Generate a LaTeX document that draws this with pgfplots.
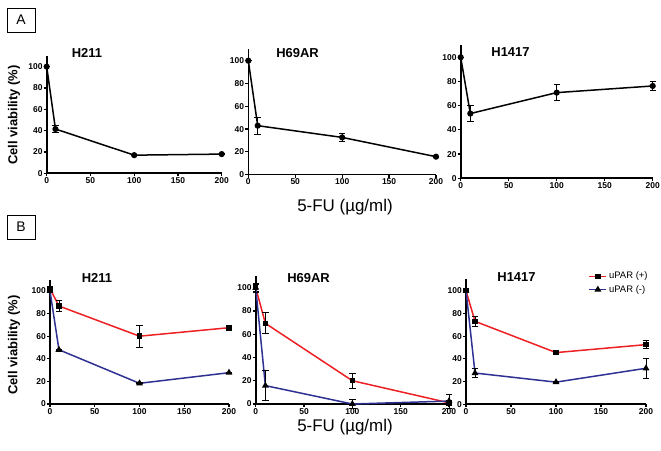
\documentclass[border=0pt]{standalone}
\usepackage{pgfplots}
\pgfplotsset{compat=1.18}
\usepackage{fontspec}
\setmainfont{Liberation Sans}
\definecolor{upred}{RGB}{237,32,36}
\definecolor{upblue}{RGB}{46,49,146}
\pgfplotsset{
 cvstyle/.style={
  scale only axis, anchor=south west,
  xmin=0,xmax=200,ymin=0,ymax=110,
  axis x line=bottom, axis y line=left,
  axis line style={-, line width=1.6bp, black},
  xtick={0,50,100,150,200}, ytick={0,20,40,60,80,100},
  tick align=outside, major tick length=3bp,
  tick style={line width=1.2bp, black},
  ticklabel style={font=\fontsize{8.5}{9}\selectfont\bfseries, inner sep=1bp},
  /pgf/number format/assume math mode=true,
  clip=false,
 },
 blk/.style={black, line width=1.5bp, mark=*, mark size=2.3bp,
   error bars/.cd, y dir=both, y explicit,
   error bar style={line width=0.9bp},
   error mark options={rotate=90, mark size=3.2bp, line width=0.9bp}},
 redser/.style={upred, line width=1.5bp, mark=square*, mark size=2bp, mark options={black},
   error bars/.cd, y dir=both, y explicit,
   error bar style={line width=0.9bp, black},
   error mark options={rotate=90, mark size=3.2bp, line width=0.9bp, black}},
 blueser/.style={upblue, line width=1.5bp, mark=triangle*, mark size=2.5bp, mark options={black},
   error bars/.cd, y dir=both, y explicit,
   error bar style={line width=0.9bp, black},
   error mark options={rotate=90, mark size=3.2bp, line width=0.9bp, black}},
}
\begin{document}
\begin{tikzpicture}[x=1bp,y=1bp]
\path[use as bounding box] (0,0) rectangle (661,451);
% panel labels
\node[draw, line width=0.8bp, minimum width=28bp, minimum height=24bp, inner sep=0pt, font=\fontsize{14}{15}\selectfont] at (21,431) {A};
\node[draw, line width=0.8bp, minimum width=28bp, minimum height=24bp, inner sep=0pt, font=\fontsize{14}{15}\selectfont] at (21,224) {B};
% y labels
\node[rotate=90, font=\fontsize{13}{14}\selectfont\bfseries] at (14,336) {Cell viability (\%)};
\node[rotate=90, font=\fontsize{13}{14}\selectfont\bfseries] at (14,106) {Cell viability (\%)};
% x labels
\node[font=\fontsize{17}{18}\selectfont] at (345,244) {5-FU (µg/ml)};
\node[font=\fontsize{17}{18}\selectfont] at (345,24) {5-FU (µg/ml)};
% titles
\node[font=\fontsize{13}{14}\selectfont\bfseries] at (87,398) {H211};
\node[font=\fontsize{13}{14}\selectfont\bfseries] at (297.5,398) {H69AR};
\node[font=\fontsize{13}{14}\selectfont\bfseries] at (510.5,398.5) {H1417};
\node[font=\fontsize{13}{14}\selectfont\bfseries] at (97,173) {H211};
\node[font=\fontsize{13}{14}\selectfont\bfseries] at (308.5,173) {H69AR};
\node[font=\fontsize{13}{14}\selectfont\bfseries] at (516.5,173.5) {H1417};

% ---------- Panel A ----------
\begin{axis}[cvstyle, at={(46.7bp,277.7bp)}, width=175bp, height=117.3bp]
\addplot[blk] table[x=x,y=y,y error=e] {
x y e
0 100 0
10 41.5 3
100 17 0.5
200 18 0.5
};
\end{axis}
\begin{axis}[cvstyle, at={(248.3bp,276.3bp)}, width=187.7bp, height=125.4bp]
\addplot[blk] table[x=x,y=y,y error=e] {
x y e
0 100 0
10 43 7.5
100 32.7 3.6
200 15.8 0.5
};
\end{axis}
\begin{axis}[cvstyle, at={(460.7bp,272.7bp)}, width=192bp, height=133.1bp]
\addplot[blk] table[x=x,y=y,y error=e] {
x y e
0 100 0
10 53.5 6.6
100 70.8 6.7
200 76.3 3.4
};
\end{axis}

% ---------- Panel B ----------
\begin{axis}[cvstyle, at={(50bp,47bp)}, width=179bp, height=124.3bp]
\addplot[redser] table[x=x,y=y,y error=e] {
x y e
0 102 1
10 86.7 4.7
100 60 9.7
200 67.5 2
};
\addplot[blueser] table[x=x,y=y,y error=e] {
x y e
0 100 0
10 48 0.5
100 18.3 0.5
200 27.7 0.5
};
\end{axis}
\begin{axis}[cvstyle, at={(255.7bp,47bp)}, width=193.3bp, height=128bp]
\addplot[redser] table[x=x,y=y,y error=e] {
x y e
0 100 3
10 69.3 9
100 20 6.6
200 1 1
};
\addplot[blueser] table[x=x,y=y,y error=e] {
x y e
0 100 4
10 15.8 13
100 0 4
200 2.5 6
};
\end{axis}
\begin{axis}[cvstyle, at={(466bp,46.7bp)}, width=180bp, height=125bp,
  legend style={at={(0.68,1.075)}, anchor=north west, draw=none, fill=none,
    font=\fontsize{9.5}{11}\selectfont, inner sep=0pt, row sep=1bp},
  legend cell align=left]
\addplot[redser] table[x=x,y=y,y error=e] {
x y e
0 100 1
10 73 4.4
100 45.5 1
200 52.5 3.4
};
\addlegendentry{uPAR (+)}
\addplot[blueser] table[x=x,y=y,y error=e] {
x y e
0 100 0
10 27.5 3.7
100 19.5 0.5
200 31.7 8.8
};
\addlegendentry{uPAR (-)}
\end{axis}
\end{tikzpicture}
\end{document}
